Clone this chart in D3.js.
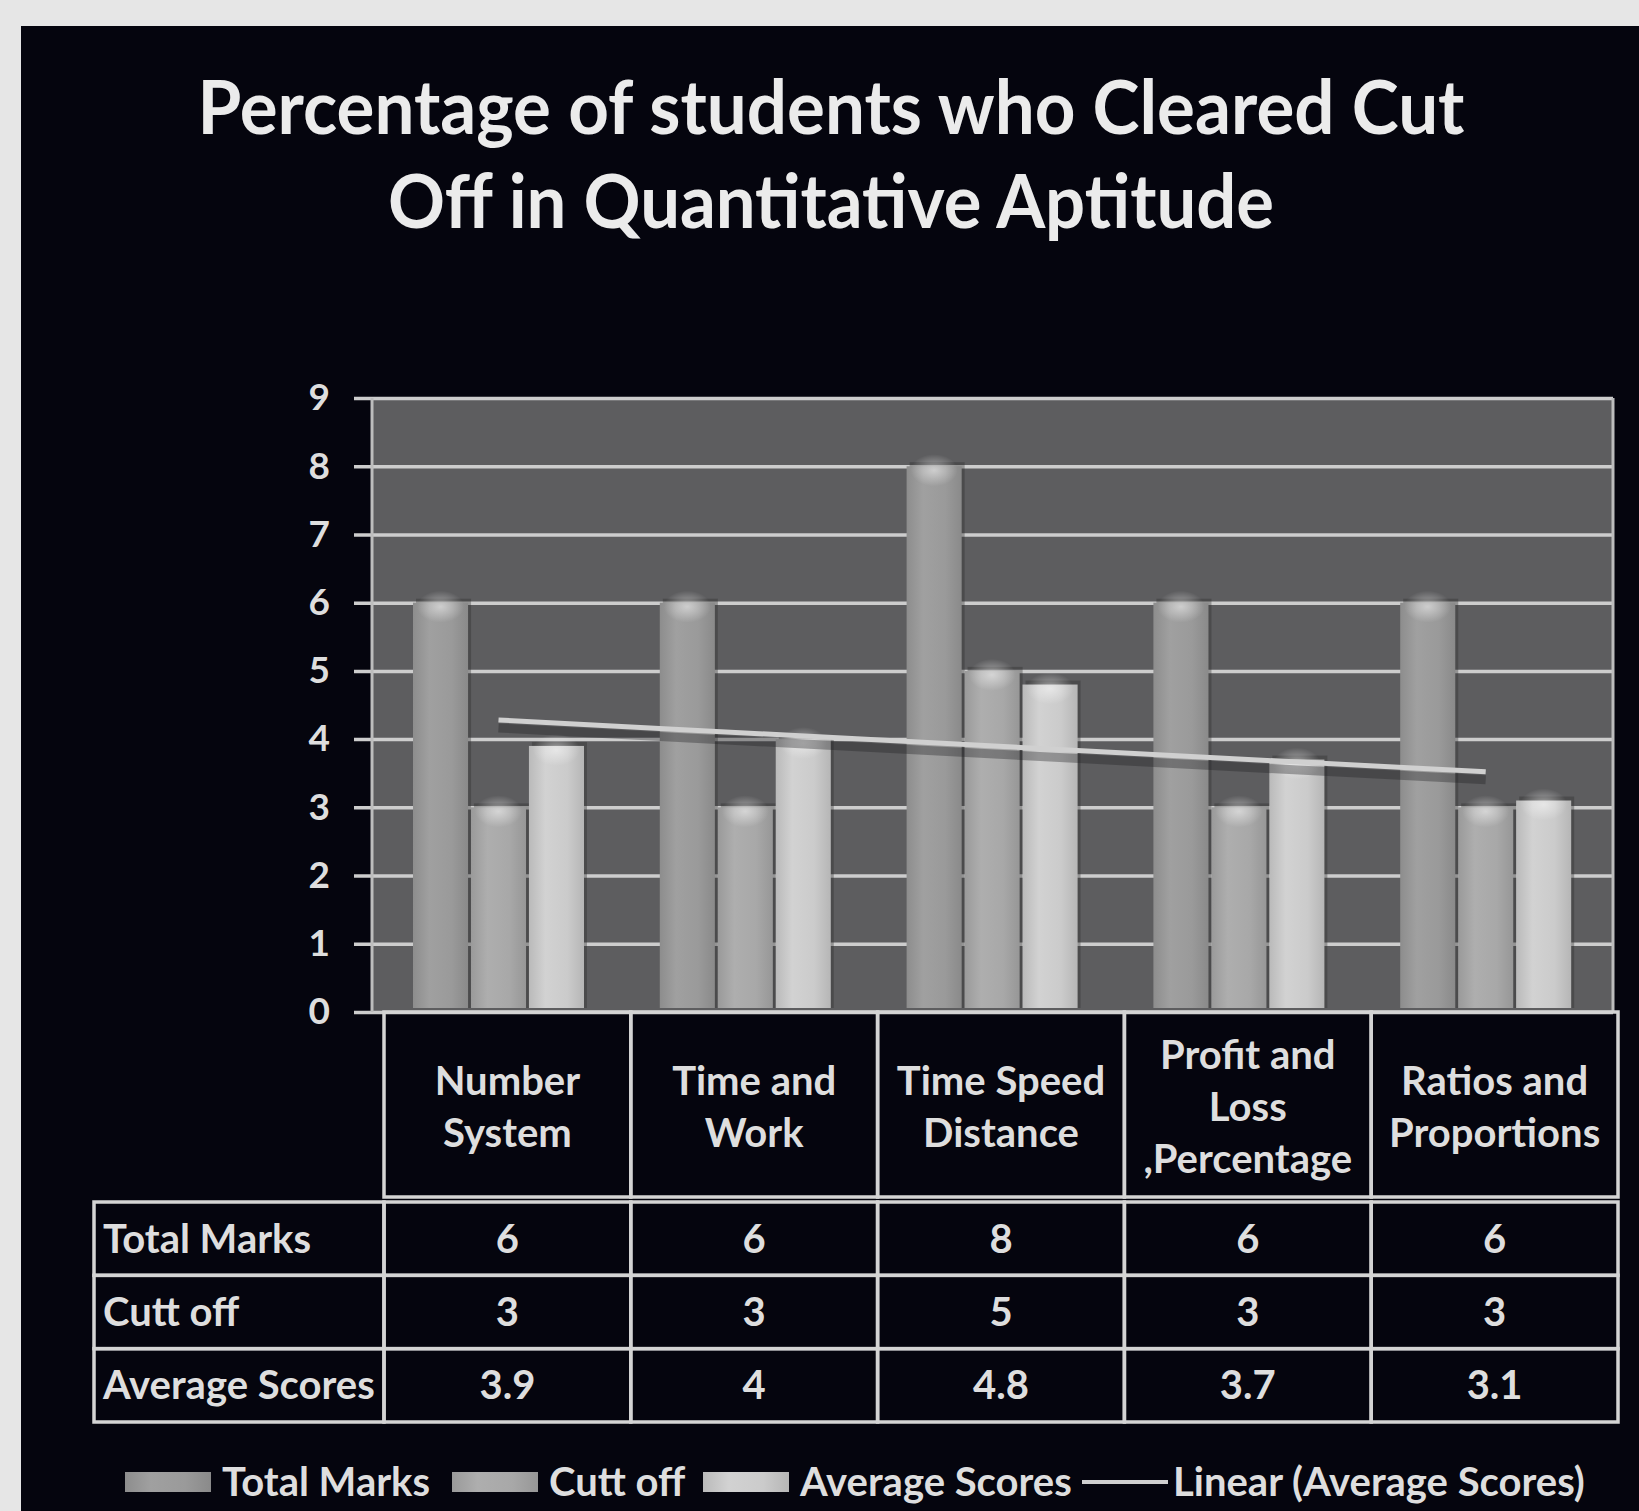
<!DOCTYPE html>
<html lang="en">
<head>
<meta charset="UTF-8">
<title>Percentage of students who Cleared Cut Off in Quantitative Aptitude</title>
<script src="https://d3js.org/d3.v7.min.js"></script>
<style>
  body, html { margin: 0; padding: 0; background: #e6e6e6; overflow: hidden; }
  svg { display: block; }
  text { font-family: Lato, "Open Sans", sans-serif; font-weight: 700; }
</style>
</head>
<body>
<div id="chart"></div>
<script>
(function() {
  // data
  const categories = ["Number System", "Time and Work", "Time Speed Distance", "Profit and Loss ,Percentage", "Ratios and Proportions"];
  const categoryLines = [["Number", "System"], ["Time and", "Work"], ["Time Speed", "Distance"], ["Profit and", "Loss", ",Percentage"], ["Ratios and", "Proportions"]];
  const seriesNames = ["Total Marks", "Cutt off", "Average Scores"];
  const totalMarks = [6, 6, 8, 6, 6];
  const cuttOff = [3, 3, 5, 3, 3];
  const averageScores = [3.9, 4, 4.8, 3.7, 3.1];
  const yTicks = [0, 1, 2, 3, 4, 5, 6, 7, 8, 9];
  const titleLines = ["Percentage of students who Cleared Cut", "Off in Quantitative Aptitude"];
  const trendLabel = "Linear (Average Scores)";

  const seriesValues = [totalMarks, cuttOff, averageScores];
  const seriesColors = ["#9a9a9a", "#a8a8a8", "#cbcbcb"];

  const width = 1639, height = 1511;
  const wall = { left: 372, right: 1613, top: 398, bottom: 1012 };
  const textColor = "#dedede";
  const lineColor = "#cdcdcd";
  const fs = 40;

  const svg = d3.select("#chart").append("svg")
    .attr("width", width)
    .attr("height", height);

  const defs = svg.append("defs");
  seriesColors.forEach((c, i) => {
    const g = defs.append("linearGradient").attr("id", "bar" + i)
      .attr("x1", 0).attr("x2", 1).attr("y1", 0).attr("y2", 0);
    g.append("stop").attr("offset", "0%").attr("stop-color", d3.color(c).darker(0.25));
    g.append("stop").attr("offset", "30%").attr("stop-color", d3.color(c).brighter(0.1));
    g.append("stop").attr("offset", "70%").attr("stop-color", c);
    g.append("stop").attr("offset", "100%").attr("stop-color", d3.color(c).darker(0.3));
  });
  const hi = defs.append("radialGradient").attr("id", "cap");
  hi.append("stop").attr("offset", "0%").attr("stop-color", "#ffffff").attr("stop-opacity", 0.5);
  hi.append("stop").attr("offset", "100%").attr("stop-color", "#ffffff").attr("stop-opacity", 0);

  // page background and dark panel
  svg.append("rect").attr("width", width).attr("height", height).attr("fill", "#e6e6e6");
  svg.append("rect").attr("x", 21).attr("y", 26).attr("width", width - 21).attr("height", height - 26)
    .attr("fill", "#05050e");

  // title
  svg.append("g").selectAll("text")
    .data(titleLines)
    .join("text")
    .attr("x", 831)
    .attr("y", (d, i) => 134 + i * 94)
    .attr("text-anchor", "middle")
    .attr("font-size", 74)
    .attr("fill", "#ebebeb")
    .attr("textLength", (d, i) => i === 0 ? 1267 : 886)
    .attr("lengthAdjust", "spacingAndGlyphs")
    .text(d => d);

  // scales
  const y = d3.scaleLinear().domain([0, 9]).range([wall.bottom, wall.top]);
  const xt = d3.scaleBand().domain(categories).range([384, 1618]);
  const xs = d3.scaleBand().domain(seriesNames).range([29, 200]).paddingInner(0.05);

  // wall
  svg.append("rect")
    .attr("x", wall.left).attr("y", wall.top)
    .attr("width", wall.right - wall.left).attr("height", wall.bottom - wall.top)
    .attr("fill", "#5d5d5f");

  // grid + y axis
  const yAxis = d3.axisLeft(y)
    .tickValues(yTicks)
    .tickSize(wall.right - 354)
    .tickPadding(24)
    .tickFormat(d3.format("d"));

  const ga = svg.append("g")
    .attr("transform", `translate(${wall.right},0)`)
    .call(yAxis);
  ga.select(".domain").remove();
  ga.selectAll(".tick line").attr("stroke", lineColor).attr("stroke-width", 3.5);
  ga.selectAll(".tick text")
    .attr("fill", textColor)
    .attr("font-size", 37)
    .attr("font-family", "Lato, sans-serif")
    .attr("font-weight", 700);

  // wall edges
  svg.append("line").attr("x1", wall.left).attr("x2", wall.left).attr("y1", wall.top).attr("y2", wall.bottom)
    .attr("stroke", "#bdbdbd").attr("stroke-width", 3);
  svg.append("line").attr("x1", wall.right).attr("x2", wall.right).attr("y1", wall.top).attr("y2", wall.bottom)
    .attr("stroke", "#bdbdbd").attr("stroke-width", 3);

  // bars
  const barData = [];
  categories.forEach((c, ci) => {
    seriesNames.forEach((s, si) => {
      barData.push({ cat: c, series: s, si: si, value: seriesValues[si][ci] });
    });
  });

  const bars = svg.append("g");
  bars.selectAll("rect.shadow")
    .data(barData)
    .join("rect")
    .attr("class", "shadow")
    .attr("x", d => xt(d.cat) + xs(d.series) + 3)
    .attr("y", d => y(d.value) - 4)
    .attr("width", xs.bandwidth())
    .attr("height", d => y(0) - y(d.value))
    .attr("fill", "#2a2a2c")
    .attr("opacity", 0.35);

  bars.selectAll("rect.bar")
    .data(barData)
    .join("rect")
    .attr("class", "bar")
    .attr("x", d => xt(d.cat) + xs(d.series))
    .attr("y", d => y(d.value))
    .attr("width", xs.bandwidth())
    .attr("height", d => y(0) - y(d.value) - 4)
    .attr("fill", d => `url(#bar${d.si})`);

  bars.selectAll("ellipse")
    .data(barData)
    .join("ellipse")
    .attr("cx", d => xt(d.cat) + xs(d.series) + xs.bandwidth() / 2)
    .attr("cy", d => y(d.value) + 4)
    .attr("rx", xs.bandwidth() / 2 - 4)
    .attr("ry", 16)
    .attr("fill", "url(#cap)");

  // linear trend of average scores
  const n = averageScores.length;
  const idx = d3.range(1, n + 1);
  const mx = d3.mean(idx), my = d3.mean(averageScores);
  const slope = d3.sum(idx, (x, i) => (x - mx) * (averageScores[i] - my)) / d3.sum(idx, x => (x - mx) * (x - mx));
  const icpt = my - slope * mx;
  const groupMid = (xs.range()[0] + xs.range()[1]) / 2;
  const trend = [
    { x: xt(categories[0]) + groupMid, v: icpt + slope * 1 },
    { x: xt(categories[n - 1]) + groupMid, v: icpt + slope * n }
  ];
  const trendLine = d3.line().x(d => d.x).y(d => y(d.v));
  svg.append("path").datum(trend).attr("d", trendLine)
    .attr("transform", "translate(0,8)")
    .attr("stroke", "#202022").attr("stroke-opacity", 0.35).attr("stroke-width", 9).attr("fill", "none");
  svg.append("path").datum(trend).attr("d", trendLine)
    .attr("stroke", "#d0d0d0").attr("stroke-width", 5).attr("fill", "none");

  // data table
  const table = svg.append("g");
  const headTop = 1012, headBottom = 1197;
  const rowY = d3.scaleBand().domain(seriesNames).range([1202, 1422]);
  const tstroke = "#d4d4d4";

  // header cells
  table.selectAll("rect.head")
    .data(categories)
    .join("rect")
    .attr("class", "head")
    .attr("x", d => xt(d)).attr("y", headTop)
    .attr("width", xt.bandwidth()).attr("height", headBottom - headTop)
    .attr("fill", "none").attr("stroke", tstroke).attr("stroke-width", 3.5);

  table.selectAll("text.cat")
    .data(categories)
    .join("text")
    .attr("class", "cat")
    .attr("fill", textColor)
    .attr("font-size", fs)
    .attr("text-anchor", "middle")
    .each(function(d, i) {
      const lines = categoryLines[i];
      const mid = (headTop + headBottom) / 2 + 2;
      d3.select(this).selectAll("tspan")
        .data(lines)
        .join("tspan")
        .attr("x", xt(d) + xt.bandwidth() / 2)
        .attr("y", (l, j) => mid + (j - (lines.length - 1) / 2) * 52)
        .attr("dy", "0.35em")
        .text(l => l);
    });

  // data rows
  seriesNames.forEach((s, si) => {
    const ry = rowY(s), rh = rowY.bandwidth();
    table.append("rect")
      .attr("x", 94).attr("y", ry)
      .attr("width", 384 - 94).attr("height", rh)
      .attr("fill", "none").attr("stroke", tstroke).attr("stroke-width", 3.5);
    table.append("text")
      .attr("x", 103).attr("y", ry + rh / 2).attr("dy", "0.35em")
      .attr("fill", textColor).attr("font-size", fs)
      .text(s);
    table.selectAll(null)
      .data(categories)
      .join("rect")
      .attr("x", d => xt(d)).attr("y", ry)
      .attr("width", xt.bandwidth()).attr("height", rh)
      .attr("fill", "none").attr("stroke", tstroke).attr("stroke-width", 3.5);
    table.selectAll(null)
      .data(categories)
      .join("text")
      .attr("x", d => xt(d) + xt.bandwidth() / 2)
      .attr("y", ry + rh / 2).attr("dy", "0.35em")
      .attr("text-anchor", "middle")
      .attr("fill", textColor).attr("font-size", fs)
      .text((d, ci) => String(seriesValues[si][ci]));
  });

  // legend
  const legendX = [125, 452, 703, 1082];
  const ly = 1482;
  const legend = svg.append("g");
  seriesNames.forEach((s, si) => {
    legend.append("rect")
      .attr("x", legendX[si]).attr("y", ly - 10)
      .attr("width", 86).attr("height", 20)
      .attr("fill", `url(#bar${si})`);
    legend.append("text")
      .attr("x", legendX[si] + 97).attr("y", ly).attr("dy", "0.35em")
      .attr("fill", textColor).attr("font-size", fs)
      .text(s);
  });
  legend.append("line")
    .attr("x1", legendX[3]).attr("x2", legendX[3] + 86)
    .attr("y1", ly).attr("y2", ly)
    .attr("stroke", "#d0d0d0").attr("stroke-width", 4);
  legend.append("text")
    .attr("x", legendX[3] + 91).attr("y", ly).attr("dy", "0.35em")
    .attr("fill", textColor).attr("font-size", fs)
    .text(trendLabel);
})();
</script>
</body>
</html>
